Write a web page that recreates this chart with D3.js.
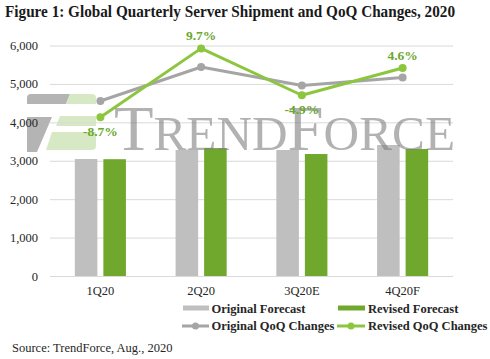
<!DOCTYPE html>
<html>
<head>
<meta charset="utf-8">
<script src="https://cdn.jsdelivr.net/npm/d3@7"></script>
<style>
  body { margin: 0; background: #fff; }
  svg text { font-family: "Liberation Serif", serif; }
</style>
</head>
<body>
<script>
var quarters = ["1Q20", "2Q20", "3Q20E", "4Q20F"];
var originalForecast = [3045, 3280, 3280, 3410];
var revisedForecast = [3040, 3330, 3175, 3305];
// line points, read against the left axis (the QoQ axis is hidden in the original)
var originalQoQ = [4555, 5440, 4960, 5170];
var revisedQoQ = [4130, 5925, 4705, 5415];
var revisedQoQLabels = ["-8.7%", "9.7%", "-4.9%", "4.6%"];
var yTicks = [0, 1000, 2000, 3000, 4000, 5000, 6000];

var width = 490, height = 359;
var margin = {left: 50, right: 37, top: 45.5, bottom: 83};
var serif = "'Liberation Serif', serif";

var svg = d3.select("body").append("svg").attr("width", width).attr("height", height);

var x = d3.scaleBand()
    .domain(quarters)
    .range([margin.left, width - margin.right]);

var x1 = d3.scaleBand()
    .domain(["orig", "rev"])
    .range([0, x.bandwidth()])
    .paddingInner(0.21)
    .paddingOuter(0.87);

var y = d3.scaleLinear()
    .domain([0, 6000])
    .range([height - margin.bottom, margin.top]);

// title
svg.append("text")
    .attr("x", 5)
    .attr("y", 17)
    .attr("font-family", serif)
    .attr("textLength", 450)
    .attr("lengthAdjust", "spacingAndGlyphs")
    .style("font-size", "16.5px")
    .style("font-weight", "bold")
    .style("fill", "#1a1a1a")
    .text("Figure 1: Global Quarterly Server Shipment and QoQ Changes, 2020");

// watermark logo sits behind the plot
var logo = svg.append("g");
logo.append("path")
    .attr("d", "M27,104 L27,98 Q27,94 31,94 L70,94 L66,104 Z M27,117 L52,117 L37,152 L27,152 Z")
    .style("fill", "#b4b4b4");
logo.append("path")
    .attr("d", "M70,94 L92,94 Q96,94 96,98 L96,104 L66,104 Z M60,116 L96,116 L96,126 L56,126 Z M52,132 L96,132 L96,146 Q96,150 92,150 L46,150 Z")
    .style("fill", "#d7e9c4");

// y axis + gridlines
var yAxis = d3.axisLeft(y)
    .tickValues(yTicks)
    .tickSize(-(width - margin.left - margin.right))
    .tickPadding(12)
    .tickFormat(d3.format(","));

var yg = svg.append("g")
    .attr("transform", "translate(" + margin.left + ",0)")
    .call(yAxis)
    .attr("font-family", serif)
    .attr("font-size", 12.5);
yg.select(".domain").remove();
yg.selectAll("line").attr("stroke", "#d9d9d9");
yg.selectAll("text").style("fill", "#262626");

// x axis
var xg = svg.append("g")
    .attr("transform", "translate(0," + y(0) + ")")
    .call(d3.axisBottom(x).tickSize(0).tickPadding(10))
    .attr("font-family", serif)
    .attr("font-size", 12.5);
xg.select(".domain").remove();
xg.selectAll("text").style("fill", "#262626");

// bars
var barGroups = svg.append("g").selectAll("g")
    .data(quarters)
    .enter()
    .append("g")
    .attr("transform", function (d) { return "translate(" + x(d) + ",0)"; });

barGroups.append("rect")
    .attr("x", x1("orig"))
    .attr("width", x1.bandwidth())
    .attr("y", function (d, i) { return y(originalForecast[i]); })
    .attr("height", function (d, i) { return y(0) - y(originalForecast[i]); })
    .style("fill", "#bfbfbf");

barGroups.append("rect")
    .attr("x", x1("rev"))
    .attr("width", x1.bandwidth())
    .attr("y", function (d, i) { return y(revisedForecast[i]); })
    .attr("height", function (d, i) { return y(0) - y(revisedForecast[i]); })
    .style("fill", "#70a72d");

// lines
var line = d3.line()
    .x(function (d, i) { return x(quarters[i]) + x.bandwidth() / 2; })
    .y(function (d) { return y(d); });

function drawLine(values, color) {
    svg.append("path")
        .datum(values)
        .attr("d", line)
        .style("fill", "none")
        .style("stroke", color)
        .style("stroke-width", 3)
        .style("stroke-linejoin", "round");
    svg.append("g").selectAll("circle")
        .data(values)
        .enter()
        .append("circle")
        .attr("cx", function (d, i) { return x(quarters[i]) + x.bandwidth() / 2; })
        .attr("cy", function (d) { return y(d); })
        .attr("r", 4)
        .style("fill", color);
}
drawLine(originalQoQ, "#a5a5a5");
drawLine(revisedQoQ, "#8cc63f");

// watermark text, semi transparent over the plot
var wmText = svg.append("text")
    .attr("x", 114)
    .attr("y", 150)
    .attr("font-family", serif)
    .attr("textLength", 341)
    .attr("lengthAdjust", "spacingAndGlyphs")
    .style("fill", "#7f7f7f")
    .style("opacity", 0.6);
wmText.append("tspan").style("font-size", "63px").text("T");
wmText.append("tspan").style("font-size", "48px").text("REND");
wmText.append("tspan").style("font-size", "63px").text("F");
wmText.append("tspan").style("font-size", "48px").text("ORCE");

// labels for revised QoQ: below for 1st and 3rd point, above for the others
var labelOffset = [14, -13, 14, -13];
svg.append("g").selectAll("text")
    .data(revisedQoQ)
    .enter()
    .append("text")
    .attr("x", function (d, i) { return x(quarters[i]) + x.bandwidth() / 2; })
    .attr("y", function (d, i) { return y(d) + labelOffset[i]; })
    .attr("dy", "0.35em")
    .attr("text-anchor", "middle")
    .attr("font-family", serif)
    .style("font-size", "13.5px")
    .style("font-weight", "bold")
    .style("fill", "#6aa72e")
    .text(function (d, i) { return revisedQoQLabels[i]; });

// legend
var legend = svg.append("g")
    .attr("font-family", serif)
    .style("font-size", "12.5px")
    .style("font-weight", "bold")
    .style("fill", "#262626");
legend.append("rect").attr("x", 183).attr("y", 305.5).attr("width", 26).attr("height", 5).style("fill", "#bfbfbf");
legend.append("text").attr("x", 211.5).attr("y", 313).text("Original Forecast");
legend.append("rect").attr("x", 338).attr("y", 305.5).attr("width", 27).attr("height", 5).style("fill", "#70a72d");
legend.append("text").attr("x", 368).attr("y", 313).text("Revised Forecast");

legend.append("line").attr("x1", 182).attr("x2", 209).attr("y1", 326).attr("y2", 326)
    .style("stroke", "#a5a5a5").style("stroke-width", 3);
legend.append("circle").attr("cx", 195.5).attr("cy", 326).attr("r", 3.5).style("fill", "#a5a5a5");
legend.append("text").attr("x", 211.5).attr("y", 330).text("Original QoQ Changes");
legend.append("line").attr("x1", 337).attr("x2", 365).attr("y1", 326).attr("y2", 326)
    .style("stroke", "#8cc63f").style("stroke-width", 3);
legend.append("circle").attr("cx", 351).attr("cy", 326).attr("r", 3.5).style("fill", "#8cc63f");
legend.append("text").attr("x", 368).attr("y", 330).text("Revised QoQ Changes");

// source
svg.append("text")
    .attr("x", 12)
    .attr("y", 352)
    .attr("font-family", serif)
    .style("font-size", "12.5px")
    .style("fill", "#262626")
    .text("Source: TrendForce, Aug., 2020");
</script>
</body>
</html>
